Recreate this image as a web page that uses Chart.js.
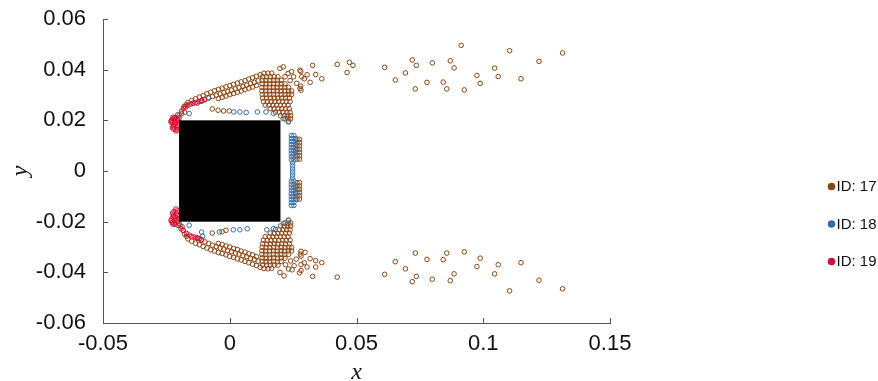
<!DOCTYPE html>
<html><head><meta charset="utf-8">
<script src="https://cdn.jsdelivr.net/npm/chart.js@4/dist/chart.umd.min.js"></script>
<style>html,body{margin:0;padding:0;background:#fff}#wrap{width:878px;height:381px;position:relative}</style>
</head><body><div id="wrap"><canvas id="c"></canvas></div>
<script>
// ---------- data ----------
const seriesLabels = ['ID: 17', 'ID: 18', 'ID: 19'];
const xTickValues = [-0.05, 0, 0.05, 0.1, 0.15];
const xTickLabels = ['-0.05', '0', '0.05', '0.1', '0.15'];
const yTickValues = [-0.06, -0.04, -0.02, 0, 0.02, 0.04, 0.06];
const yTickLabels = ['-0.06', '-0.04', '-0.02', '0', '0.02', '0.04', '0.06'];
const obstacleX = [-0.02, 0.02];
const obstacleY = [-0.02, 0.02];

const id17TopFar = [[0.0913,0.0496],[0.1104,0.0475],[0.1313,0.0466],[0.1220,0.0433],[0.1149,0.0364],[0.1059,0.0373],[0.1045,0.0406],[0.0975,0.0377],[0.0988,0.0346],[0.0925,0.0320],[0.0885,0.0407],[0.0870,0.0435],[0.0842,0.0351],[0.0856,0.0324],[0.0799,0.0427],[0.0778,0.0350],[0.0736,0.0417],[0.0720,0.0438],[0.0732,0.0324],[0.0693,0.0387],[0.0653,0.0359],[0.0611,0.0409],[0.0486,0.0417],[0.0472,0.0429],[0.0463,0.0389],[0.0424,0.0421],[0.0363,0.0364],[0.0339,0.0381],[0.0327,0.0417],[0.0317,0.0350],[0.0305,0.0380],[0.0294,0.0364],[0.0284,0.0372],[0.0280,0.0393],[0.0280,0.0335],[0.0281,0.0319],
 [0.0198,0.0405],[0.0211,0.0411],[0.0244,0.0392],[0.0277,0.0398],[0.0264,0.0346],[0.0277,0.0326],[0.0218,0.0372],[0.0238,0.0357],[0.0252,0.0372],[0.0230,0.0385]];
const id17BottomFar = [[0.0732,-0.0324],[0.0856,-0.0324],[0.0925,-0.0319],[0.0778,-0.0349],[0.0842,-0.0350],[0.0988,-0.0344],[0.0653,-0.0358],[0.0693,-0.0386],[0.0975,-0.0377],[0.1059,-0.0370],[0.1149,-0.0362],[0.0611,-0.0408],[0.0736,-0.0416],[0.0720,-0.0437],[0.0799,-0.0427],[0.0885,-0.0406],[0.0870,-0.0433],[0.1045,-0.0406],[0.1220,-0.0431],[0.1104,-0.0473],[0.1313,-0.0465],[0.0424,-0.0419],[0.0327,-0.0416],[0.0363,-0.0362],[0.0339,-0.0354],[0.0339,-0.0379],[0.0317,-0.0346],[0.0305,-0.0379],[0.0294,-0.0362],[0.0297,-0.0321],[0.0281,-0.0317],[0.0281,-0.0336],[0.0281,-0.0369],[0.0281,-0.0393],
 [0.0198,-0.0400],[0.0214,-0.0414],[0.0246,-0.0390],[0.0275,-0.0402],[0.0262,-0.0348],[0.0278,-0.0328],[0.0220,-0.0370],[0.0240,-0.0355],[0.0254,-0.0374],[0.0232,-0.0387]];
const id17TopArc = [[-0.0165,0.0270],[-0.0150,0.0278],[-0.0135,0.0285],[-0.0120,0.0292],[-0.0105,0.0298],[-0.0090,0.0305],[-0.0075,0.0311],[-0.0060,0.0317],[-0.0045,0.0322],[-0.0030,0.0327],[-0.0015,0.0332],[0.0000,0.0337],[0.0015,0.0342],[0.0030,0.0347],[0.0045,0.0352],[0.0060,0.0357],[0.0075,0.0363],[0.0090,0.0368],[0.0105,0.0374],[0.0120,0.0380],
 [-0.0128,0.0268],[-0.0113,0.0275],[-0.0098,0.0281],[-0.0083,0.0288],[-0.0068,0.0294],[-0.0053,0.0299],[-0.0038,0.0304],[-0.0023,0.0309],[-0.0008,0.0314],[0.0007,0.0319],[0.0022,0.0324],[0.0037,0.0329],[0.0052,0.0334],[0.0067,0.0339],[0.0082,0.0345],[0.0097,0.0350],[0.0112,0.0356],
 [-0.0045,0.0286],[-0.0030,0.0291],[-0.0015,0.0296],[0.0000,0.0301],[0.0015,0.0306],[0.0030,0.0311],[0.0045,0.0316],[0.0060,0.0321],[0.0075,0.0327],[0.0090,0.0332],[0.0105,0.0338],
 [-0.0205,0.0222],[-0.0190,0.0226],[-0.0178,0.0232],[-0.0180,0.0255],[-0.0172,0.0262],
 [-0.0069,0.0245],[-0.0046,0.0240],[-0.0024,0.0237],[-0.0002,0.0237]];
const id17BottomArc = [[-0.0165,-0.0268],[-0.0150,-0.0277],[-0.0135,-0.0285],[-0.0120,-0.0291],[-0.0105,-0.0298],[-0.0090,-0.0304],[-0.0075,-0.0311],[-0.0060,-0.0316],[-0.0045,-0.0322],[-0.0030,-0.0326],[-0.0015,-0.0331],[0.0000,-0.0337],[0.0015,-0.0341],[0.0030,-0.0347],[0.0045,-0.0351],[0.0060,-0.0357],[0.0075,-0.0362],[0.0090,-0.0368],[0.0105,-0.0373],[0.0120,-0.0380],
 [-0.0128,-0.0266],[-0.0113,-0.0273],[-0.0098,-0.0280],[-0.0083,-0.0286],[-0.0068,-0.0293],[-0.0053,-0.0298],[-0.0038,-0.0304],[-0.0023,-0.0308],[-0.0008,-0.0314],[0.0007,-0.0318],[0.0022,-0.0324],[0.0037,-0.0328],[0.0052,-0.0334],[0.0067,-0.0338],[0.0082,-0.0345],[0.0097,-0.0349],[0.0112,-0.0356],
 [-0.0045,-0.0286],[-0.0030,-0.0290],[-0.0015,-0.0296],[0.0000,-0.0300],[0.0015,-0.0306],[0.0030,-0.0310],[0.0045,-0.0316],[0.0060,-0.0320],[0.0075,-0.0327],[0.0090,-0.0331],[0.0105,-0.0338],
 [-0.0204,-0.0215],[-0.0188,-0.0220],[-0.0184,-0.0234],[-0.0178,-0.0250],[-0.0170,-0.0258],
 [-0.0069,-0.0245],[-0.0015,-0.0234],[-0.0030,-0.0240]];
const id17TopFan = [[0.0135,0.0386],[0.0150,0.0386],[0.0165,0.0386],
 [0.0130,0.0372],[0.0145,0.0372],[0.0160,0.0372],[0.0175,0.0372],[0.0190,0.0372],
 [0.0128,0.0358],[0.0143,0.0358],[0.0158,0.0358],[0.0173,0.0358],[0.0188,0.0358],[0.0203,0.0358],
 [0.0128,0.0344],[0.0143,0.0344],[0.0158,0.0344],[0.0173,0.0344],[0.0188,0.0344],[0.0203,0.0344],[0.0218,0.0344],
 [0.0127,0.0330],[0.0142,0.0330],[0.0157,0.0330],[0.0172,0.0330],[0.0187,0.0330],[0.0202,0.0330],[0.0217,0.0330],[0.0232,0.0330],
 [0.0127,0.0316],[0.0142,0.0316],[0.0157,0.0316],[0.0172,0.0316],[0.0187,0.0316],[0.0202,0.0316],[0.0217,0.0316],[0.0232,0.0316],[0.0244,0.0316],
 [0.0128,0.0302],[0.0143,0.0302],[0.0158,0.0302],[0.0173,0.0302],[0.0188,0.0302],[0.0203,0.0302],[0.0218,0.0302],[0.0233,0.0302],[0.0244,0.0302],
 [0.0130,0.0288],[0.0145,0.0288],[0.0160,0.0288],[0.0175,0.0288],[0.0190,0.0288],[0.0205,0.0288],[0.0220,0.0288],[0.0235,0.0288],
 [0.0133,0.0274],[0.0148,0.0274],[0.0163,0.0274],[0.0178,0.0274],[0.0193,0.0274],[0.0208,0.0274],[0.0223,0.0274],[0.0238,0.0274],
 [0.0140,0.0260],[0.0155,0.0260],[0.0170,0.0260],[0.0185,0.0260],[0.0200,0.0260],[0.0215,0.0260],[0.0230,0.0260],
 [0.0160,0.0246],[0.0175,0.0246],[0.0190,0.0246],[0.0205,0.0246],[0.0220,0.0246],[0.0235,0.0246],
 [0.0180,0.0232],[0.0195,0.0232],[0.0210,0.0232],[0.0225,0.0232],[0.0238,0.0232],
 [0.0200,0.0218],[0.0215,0.0218],[0.0228,0.0218],[0.0240,0.0218],
 [0.0218,0.0206],[0.0230,0.0206],[0.0240,0.0206],[0.0232,0.0196]];
const id17BottomFan = [[0.0135,-0.0385],[0.0150,-0.0386],[0.0165,-0.0384],
 [0.0130,-0.0371],[0.0145,-0.0372],[0.0160,-0.0372],[0.0175,-0.0371],[0.0190,-0.0372],
 [0.0128,-0.0357],[0.0143,-0.0358],[0.0158,-0.0358],[0.0173,-0.0357],[0.0188,-0.0358],[0.0203,-0.0357],
 [0.0128,-0.0343],[0.0143,-0.0344],[0.0158,-0.0344],[0.0173,-0.0343],[0.0188,-0.0344],[0.0203,-0.0343],[0.0218,-0.0344],
 [0.0127,-0.0329],[0.0142,-0.0330],[0.0157,-0.0330],[0.0172,-0.0329],[0.0187,-0.0330],[0.0202,-0.0329],[0.0217,-0.0330],[0.0232,-0.0329],
 [0.0127,-0.0315],[0.0142,-0.0316],[0.0157,-0.0316],[0.0172,-0.0315],[0.0187,-0.0316],[0.0202,-0.0315],[0.0217,-0.0316],[0.0232,-0.0315],[0.0244,-0.0316],
 [0.0128,-0.0301],[0.0143,-0.0302],[0.0158,-0.0302],[0.0173,-0.0301],[0.0188,-0.0302],[0.0203,-0.0301],[0.0218,-0.0302],[0.0233,-0.0301],[0.0244,-0.0302],
 [0.0130,-0.0287],[0.0145,-0.0288],[0.0160,-0.0288],[0.0175,-0.0287],[0.0190,-0.0288],[0.0205,-0.0287],[0.0220,-0.0288],[0.0235,-0.0287],
 [0.0133,-0.0273],[0.0148,-0.0274],[0.0163,-0.0274],[0.0178,-0.0273],[0.0193,-0.0274],[0.0208,-0.0273],[0.0223,-0.0274],[0.0238,-0.0273],
 [0.0140,-0.0259],[0.0155,-0.0260],[0.0170,-0.0260],[0.0185,-0.0259],[0.0200,-0.0260],[0.0215,-0.0259],[0.0230,-0.0260],
 [0.0160,-0.0245],[0.0175,-0.0246],[0.0190,-0.0246],[0.0205,-0.0245],[0.0220,-0.0246],[0.0235,-0.0245],
 [0.0180,-0.0231],[0.0195,-0.0232],[0.0210,-0.0232],[0.0225,-0.0231],[0.0238,-0.0232],
 [0.0200,-0.0217],[0.0215,-0.0218],[0.0228,-0.0218],[0.0240,-0.0217],
 [0.0218,-0.0205],[0.0230,-0.0206],[0.0240,-0.0205],[0.0232,-0.0195]];
const id17Side = [[0.0265,0.0125],[0.0275,0.0125],[0.0265,0.0112],[0.0275,0.0112],[0.0265,0.0099],[0.0275,0.0099],[0.0265,0.0086],[0.0275,0.0086],[0.0265,0.0073],[0.0275,0.0073],[0.0265,0.0060],[0.0275,0.0060],[0.0265,0.0047],[0.0275,0.0047],
 [0.0265,-0.0046],[0.0275,-0.0046],[0.0265,-0.0059],[0.0275,-0.0059],[0.0265,-0.0072],[0.0275,-0.0072],[0.0265,-0.0085],[0.0275,-0.0085],[0.0265,-0.0098],[0.0275,-0.0098],[0.0265,-0.0111],[0.0275,-0.0111]];

const id18Edge = [[-0.0199,0.0220],[-0.0160,0.0227],[-0.0144,0.0267],[-0.0111,0.0277],[-0.0085,0.0290],[0.0016,0.0233],[0.0040,0.0233],[0.0065,0.0231],[0.0109,0.0233],[0.0143,0.0233],[0.0172,0.0227],[0.0211,0.0207],[0.0231,0.0194],
 [-0.0196,-0.0214],[-0.0160,-0.0214],[-0.0125,-0.0265],[-0.0111,-0.0241],[-0.0107,-0.0258],[-0.0041,-0.0241],[0.0014,-0.0232],[0.0040,-0.0232],[0.0069,-0.0228],[0.0146,-0.0232],[0.0172,-0.0227],[0.0211,-0.0207],[0.0231,-0.0194]];
const id18Column = [[0.0243,0.0140],[0.0253,0.0140],[0.0243,0.0128],[0.0253,0.0128],[0.0260,0.0128],[0.0243,0.0116],[0.0253,0.0116],[0.0243,0.0104],[0.0253,0.0104],[0.0260,0.0104],[0.0243,0.0092],[0.0253,0.0092],[0.0243,0.0080],[0.0253,0.0080],[0.0260,0.0080],[0.0243,0.0068],[0.0253,0.0068],[0.0243,0.0056],[0.0253,0.0056],[0.0243,0.0044],[0.0253,0.0044],
 [0.0248,0.0032],[0.0248,0.0020],[0.0248,0.0008],[0.0248,-0.0004],[0.0248,-0.0016],[0.0248,-0.0028],
 [0.0243,-0.0040],[0.0253,-0.0040],[0.0243,-0.0052],[0.0253,-0.0052],[0.0243,-0.0064],[0.0253,-0.0064],[0.0260,-0.0064],[0.0243,-0.0076],[0.0253,-0.0076],[0.0243,-0.0088],[0.0253,-0.0088],[0.0260,-0.0088],[0.0243,-0.0100],[0.0253,-0.0100],[0.0243,-0.0112],[0.0253,-0.0112],[0.0260,-0.0112],[0.0243,-0.0124],[0.0253,-0.0124],[0.0243,-0.0136],[0.0253,-0.0136]];

const id19Top = [[-0.0225,0.0205],[-0.0218,0.0198],[-0.0228,0.0190],[-0.0215,0.0185],[-0.0222,0.0176],[-0.0210,0.0170],[-0.0220,0.0165],[-0.0212,0.0158],[-0.0205,0.0200],[-0.0200,0.0190],[-0.0205,0.0178],[-0.0215,0.0212],[-0.0200,0.0210],[-0.0230,0.0200],
 [-0.0223,0.0183],[-0.0213,0.0193],[-0.0226,0.0170],[-0.0208,0.0163],[-0.0218,0.0208],[-0.0208,0.0205],[-0.0232,0.0194],[-0.0224,0.0212],
 [-0.0190,0.0236],[-0.0183,0.0247],[-0.0174,0.0253],[-0.0165,0.0259],[-0.0155,0.0264],[-0.0145,0.0268],[-0.0134,0.0271],[-0.0122,0.0274],[-0.0110,0.0279],[-0.0100,0.0283]];
const id19Bottom = [[-0.0225,-0.0203],[-0.0218,-0.0196],[-0.0228,-0.0188],[-0.0215,-0.0182],[-0.0222,-0.0174],[-0.0210,-0.0168],[-0.0220,-0.0160],[-0.0212,-0.0150],[-0.0205,-0.0198],[-0.0200,-0.0188],[-0.0205,-0.0176],[-0.0215,-0.0210],[-0.0200,-0.0208],[-0.0228,-0.0202],
 [-0.0223,-0.0181],[-0.0213,-0.0190],[-0.0226,-0.0167],[-0.0208,-0.0158],[-0.0218,-0.0206],[-0.0232,-0.0195],[-0.0224,-0.0210],
 [-0.0192,-0.0228],[-0.0184,-0.0234],[-0.0170,-0.0247],[-0.0160,-0.0253],[-0.0150,-0.0258],[-0.0140,-0.0261],[-0.0130,-0.0263],[-0.0120,-0.0267],[-0.0111,-0.0271]];

// ---------- chart ----------
const toXY = a => a.map(p => ({x: p[0], y: p[1]}));
const id17Points = [].concat(id17TopFar, id17BottomFar, id17TopArc, id17BottomArc, id17TopFan, id17BottomFan, id17Side);
const id18Points = [].concat(id18Edge, id18Column);
const id19Points = [].concat(id19Top, id19Bottom);
const colors = ['#8b4513', '#3a6ea5', '#cf1236'];

const ptStyle = c => ({pointRadius: 2.3, pointBorderWidth: 1, borderColor: c, backgroundColor: 'rgba(0,0,0,0)', pointHoverRadius: 2.3, showLine: false});

const decor = {
  id: 'decor',
  afterDatasetsDraw(chart) {
    const {ctx, scales: {x, y}} = chart;
    const l = x.getPixelForValue(obstacleX[0]), r = x.getPixelForValue(obstacleX[1]);
    const t = y.getPixelForValue(obstacleY[1]), b = y.getPixelForValue(obstacleY[0]);
    ctx.save();
    ctx.fillStyle = '#000';
    ctx.fillRect(l, t, r - l, b - t);
    ctx.restore();
  },
  afterDraw(chart) {
    const {ctx, scales: {x, y}, chartArea: ca} = chart;
    ctx.save();
    ctx.strokeStyle = '#555';
    ctx.lineWidth = 1;
    ctx.beginPath();
    xTickValues.forEach(v => { const p = Math.round(x.getPixelForValue(v)) + 0.5; ctx.moveTo(p, ca.bottom); ctx.lineTo(p, ca.bottom - 5); });
    yTickValues.forEach(v => { const p = Math.round(y.getPixelForValue(v)) + 0.5; ctx.moveTo(ca.left, p); ctx.lineTo(ca.left + 5, p); });
    ctx.stroke();
    // legend
    ctx.font = '15px "Liberation Sans", Arial, sans-serif';
    ctx.textBaseline = 'middle';
    ctx.textAlign = 'left';
    chart.data.datasets.forEach((ds, i) => {
      const cy = 186.5 + i * 37.5;
      ctx.fillStyle = ds.borderColor;
      ctx.beginPath(); ctx.arc(831.5, cy, 3.8, 0, Math.PI * 2); ctx.fill();
      ctx.fillStyle = '#111';
      ctx.fillText(ds.label, 836.5, cy + 0.5);
    });
    ctx.restore();
  }
};

new Chart(document.getElementById('c'), {
  type: 'scatter',
  data: {
    datasets: [
      Object.assign({label: seriesLabels[0], data: toXY(id17Points), order: 3}, ptStyle(colors[0])),
      Object.assign({label: seriesLabels[1], data: toXY(id18Points), order: 2}, ptStyle(colors[1])),
      Object.assign({label: seriesLabels[2], data: toXY(id19Points), order: 1}, ptStyle(colors[2]))
    ]
  },
  options: {
    responsive: true, maintainAspectRatio: false, animation: false,
    layout: {padding: {top: 19, right: 268, bottom: 0, left: 0}},
    plugins: {legend: {display: false}, tooltip: {enabled: false}},
    scales: {
      x: {
        type: 'linear', min: -0.05, max: 0.15,
        afterFit: s => { s.height = 58; s.paddingLeft = 0; s.paddingRight = 0; },
        afterBuildTicks: s => { s.ticks = xTickValues.map(v => ({value: v})); },
        grid: {display: false, drawTicks: false},
        border: {display: true, color: '#555', width: 1},
        ticks: {padding: 8, color: '#111', font: {family: '"Liberation Sans", Arial, sans-serif', size: 22}, maxRotation: 0, autoSkip: false,
          callback: (v, i) => xTickLabels[i]},
        title: {display: true, text: 'x', color: '#111', padding: {top: 0, bottom: 0}, font: {family: '"Liberation Serif", "DejaVu Serif", serif', style: 'italic', size: 24, lineHeight: 0.7}}
      },
      y: {
        type: 'linear', min: -0.06, max: 0.06,
        afterFit: s => { s.width = 103; s.paddingTop = 0; s.paddingBottom = 0; },
        afterBuildTicks: s => { s.ticks = yTickValues.map(v => ({value: v})); },
        grid: {display: false, drawTicks: false},
        border: {display: true, color: '#555', width: 1},
        ticks: {padding: 17, color: '#111', font: {family: '"Liberation Sans", Arial, sans-serif', size: 22}, autoSkip: false,
          callback: (v, i) => yTickLabels[i]},
        title: {display: true, text: 'y', color: '#111', padding: {top: 9, bottom: 0}, font: {family: '"Liberation Serif", "DejaVu Serif", serif', style: 'italic', size: 24, lineHeight: 1}}
      }
    }
  },
  plugins: [decor]
});
</script></body></html>
